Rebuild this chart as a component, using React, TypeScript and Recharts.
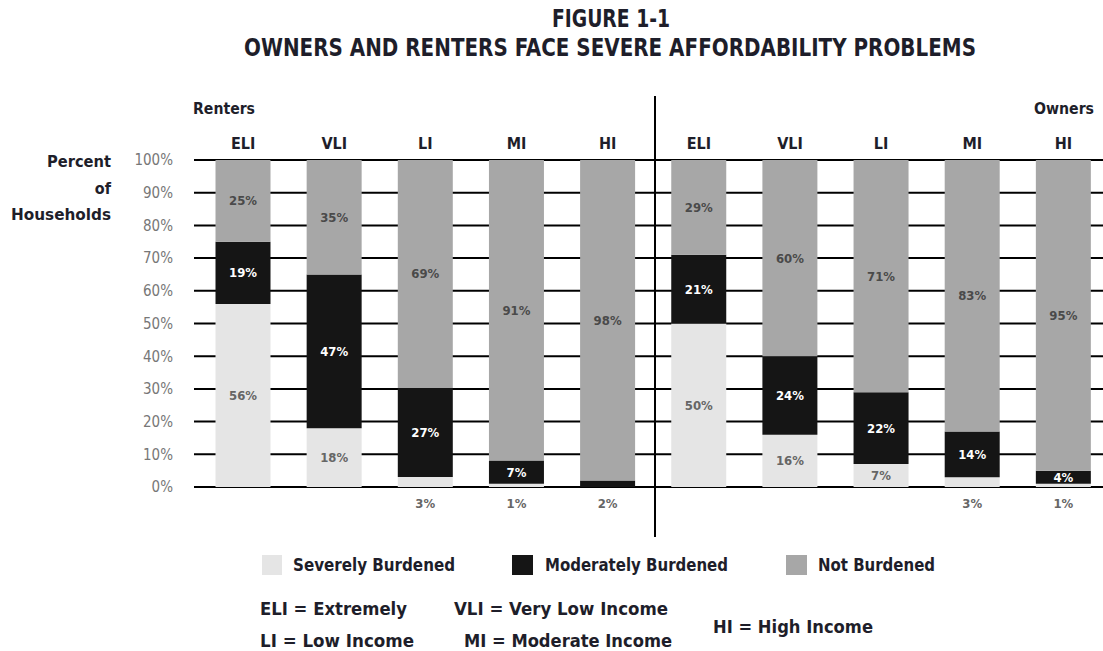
import React from "react";
import { BarChart, Bar, XAxis, YAxis, CartesianGrid, LabelList, Legend } from "recharts";

// Figure 1-1: share of households by cost burden, renters then owners
const tenure = ["Renters", "Renters", "Renters", "Renters", "Renters", "Owners", "Owners", "Owners", "Owners", "Owners"];
const categories = ["ELI", "VLI", "LI", "MI", "HI", "ELI", "VLI", "LI", "MI", "HI"];
const severe = [56, 18, 3, 1, 0, 50, 16, 7, 3, 1];
const moderate = [19, 47, 27, 7, 2, 21, 24, 22, 14, 4];
const notBurdened = [25, 35, 69, 91, 98, 29, 60, 71, 83, 95];
const yTicks = [0, 0.1, 0.2, 0.3, 0.4, 0.5, 0.6, 0.7, 0.8, 0.9, 1];

const FONT = "'Liberation Sans Narrow', 'DejaVu Sans Condensed', sans-serif";
const SEVERE = "#e5e5e5";
const MODERATE = "#151515";
const NOT_BURDENED = "#a7a7a7";

const data = categories.map((c, i) => ({
  key: `${tenure[i]}-${c}`,
  severe: severe[i],
  moderate: moderate[i],
  notBurdened: notBurdened[i],
}));

const makeLabel = (color: string) => (props: any) => {
  const { x, y, width, height, value } = props;
  const v = Number(value);
  if (!v) return null;
  const below = v < 4;
  return (
    <text
      x={x + width / 2}
      y={below ? y + height + 16 : y + height / 2}
      textAnchor="middle"
      dominantBaseline="central"
      fontFamily={FONT}
      fontWeight="bold"
      fontSize={13}
      fill={below ? "#666" : color}
    >
      {v}%
    </text>
  );
};

const legendLayout: Record<string, { sx: number; sw: number; tx: number; tw: number }> = {
  "Severely Burdened": { sx: 262, sw: 20, tx: 293, tw: 162 },
  "Moderately Burdened": { sx: 512, sw: 21, tx: 545, tw: 183 },
  "Not Burdened": { sx: 786, sw: 21, tx: 818, tw: 117 },
};

const renderLegend = (props: any) => {
  const payload = props.payload || [];
  return (
    <svg width={1103} height={50}>
      {payload.map((p: any) => {
        const l = legendLayout[p.value];
        if (!l) return null;
        return (
          <g key={p.value}>
            <rect x={l.sx} y={15} width={l.sw} height={20} fill={p.color} />
            <text x={l.tx} y={25} dominantBaseline="central" fontFamily={FONT} fontWeight="bold" fontSize={17} fill="#1e1e2a" textLength={l.tw} lengthAdjust="spacingAndGlyphs">
              {p.value}
            </text>
          </g>
        );
      })}
    </svg>
  );
};

const txt = (x: number, y: number, s: string, size: number, len?: number, anchor: "start" | "middle" | "end" = "start") => (
  <text
    x={x}
    y={y}
    textAnchor={anchor}
    dominantBaseline="central"
    fontFamily={FONT}
    fontWeight="bold"
    fontSize={size}
    fill="#1e1e2a"
    textLength={len}
    lengthAdjust={len ? "spacingAndGlyphs" : undefined}
  >
    {s}
  </text>
);

export default function App() {
  return (
    <div style={{ position: "relative", width: 1103, height: 651, overflow: "hidden", background: "#fff" }}>
      <style>{"body{margin:0;overflow:hidden}"}</style>
      <BarChart width={1109} height={651} data={data} stackOffset="expand" margin={{ top: 130, right: 0, bottom: 164, left: 0 }}>
        <CartesianGrid horizontal vertical={false} stroke="#000" strokeWidth={2} />
        <XAxis
          dataKey="key"
          orientation="top"
          height={30}
          axisLine={false}
          tickLine={false}
          tickSize={0}
          tickMargin={11}
          padding={{ left: 3.5, right: 0 }}
          interval={0}
          tickFormatter={(_v: any, i: number) => categories[i]}
          tick={{ fontFamily: FONT, fontWeight: "bold", fontSize: 16, fill: "#1e1e2a" }}
        />
        <YAxis
          width={194}
          domain={[0, 1]}
          ticks={yTicks}
          axisLine={false}
          tickLine={false}
          tickSize={0}
          tickMargin={21}
          tickFormatter={(v: number) => `${Math.round(v * 100)}%`}
          tick={{ fontFamily: FONT, fontSize: 15, fill: "#777" }}
        />
        <Legend
          layout="horizontal"
          verticalAlign="middle"
          align="center"
          content={renderLegend}
          wrapperStyle={{ position: "absolute", left: 0, top: 540, width: 1103, height: 50 }}
        />
        <Bar dataKey="severe" name="Severely Burdened" stackId="a" fill={SEVERE} barSize={55} isAnimationActive={false}>
          <LabelList dataKey="severe" content={makeLabel("#666")} />
        </Bar>
        <Bar dataKey="moderate" name="Moderately Burdened" stackId="a" fill={MODERATE} barSize={55} isAnimationActive={false}>
          <LabelList dataKey="moderate" content={makeLabel("#fff")} />
        </Bar>
        <Bar dataKey="notBurdened" name="Not Burdened" stackId="a" fill={NOT_BURDENED} barSize={55} isAnimationActive={false}>
          <LabelList dataKey="notBurdened" content={makeLabel("#4a4a4a")} />
        </Bar>
      </BarChart>
      <svg width={1103} height={651} style={{ position: "absolute", left: 0, top: 0, pointerEvents: "none" }}>
        {txt(611, 19, "FIGURE 1-1", 24, 118, "middle")}
        {txt(610, 47, "OWNERS AND RENTERS FACE SEVERE AFFORDABILITY PROBLEMS", 25, 732, "middle")}
        {txt(193, 108, "Renters", 16, 62)}
        {txt(1094, 108, "Owners", 16, 60, "end")}
        {txt(111, 161, "Percent", 16, 64, "end")}
        {txt(111, 188, "of", 16, undefined, "end")}
        {txt(111, 214, "Households", 16, 100, "end")}
        <line x1={655} y1={96} x2={655} y2={537} stroke="#000" strokeWidth={2} />
        {txt(260, 608, "ELI = Extremely", 18, 147)}
        {txt(454, 608, "VLI = Very Low Income", 18, 214)}
        {txt(260, 640, "LI = Low Income", 18, 154)}
        {txt(464, 640, "MI = Moderate Income", 18, 208)}
        {txt(713, 626, "HI = High Income", 18, 160)}
      </svg>
    </div>
  );
}
